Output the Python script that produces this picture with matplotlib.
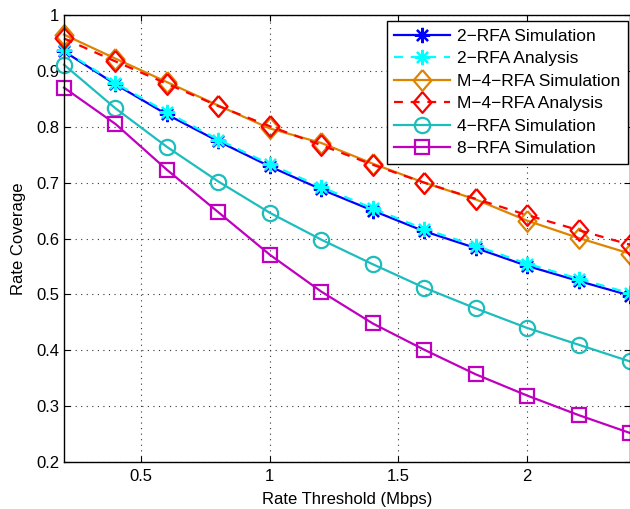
import matplotlib
matplotlib.use("Agg")
import matplotlib.pyplot as plt

plt.rcParams['font.family'] = ['Liberation Sans', 'DejaVu Sans']

# Rate threshold (Mbps)
threshold = [0.2, 0.4, 0.6, 0.8, 1.0, 1.2, 1.4, 1.6, 1.8, 2.0, 2.2, 2.4]

# Rate coverage per scheme
rfa2_sim = [0.935, 0.876, 0.822, 0.774, 0.729, 0.688, 0.650, 0.613, 0.583, 0.551, 0.524, 0.498]
rfa2_ana = [0.937, 0.878, 0.826, 0.777, 0.733, 0.692, 0.654, 0.617, 0.587, 0.555, 0.528, 0.502]
m4_sim = [0.965, 0.922, 0.880, 0.838, 0.797, 0.771, 0.734, 0.700, 0.670, 0.632, 0.601, 0.573]
m4_ana = [0.958, 0.917, 0.877, 0.837, 0.801, 0.767, 0.732, 0.700, 0.671, 0.642, 0.615, 0.589]
rfa4_sim = [0.911, 0.833, 0.764, 0.702, 0.646, 0.598, 0.554, 0.512, 0.475, 0.440, 0.410, 0.380]
rfa8_sim = [0.870, 0.805, 0.723, 0.647, 0.571, 0.505, 0.448, 0.401, 0.357, 0.319, 0.284, 0.252]

# MATLAB-style markers: 8-spoke asterisk and a slightly tall diamond
asterisk = (8, 2, 0)
diamond = [(0, 1), (0.86, 0), (0, -1), (-0.86, 0), (0, 1)]

dash = (0, (4, 3.5))
series = [
    ("2\u2212RFA Simulation", rfa2_sim, "#0000FF", "-", asterisk, 11),
    ("2\u2212RFA Analysis", rfa2_ana, "#00FFFF", dash, asterisk, 11),
    ("M\u22124\u2212RFA Simulation", m4_sim, "#DD8500", "-", diamond, 15),
    ("M\u22124\u2212RFA Analysis", m4_ana, "#FF0000", dash, diamond, 15),
    ("4\u2212RFA Simulation", rfa4_sim, "#1DBDBD", "-", "o", 11),
    ("8\u2212RFA Simulation", rfa8_sim, "#BF00BF", "-", "s", 9.5),
]

fig = plt.figure(figsize=(6.30, 5.09), dpi=100)
ax = fig.add_axes([0.1016, 0.0923, 0.8984, 0.8782])

for label, vals, color, ls, mk, ms in series:
    ax.plot(threshold, vals, color=color, linestyle=ls, linewidth=1.6,
            marker=mk, markersize=ms, markerfacecolor="none",
            markeredgecolor=color, markeredgewidth=1.6, label=label, clip_on=False)

ax.set_xlim(0.2, 2.4)
ax.set_ylim(0.2, 1.0)
ax.set_xticks([0.5, 1.0, 1.5, 2.0])
ax.set_xticklabels(["0.5", "1", "1.5", "2"])
ax.set_yticks([0.2, 0.3, 0.4, 0.5, 0.6, 0.7, 0.8, 0.9, 1.0])
ax.set_yticklabels(["0.2", "0.3", "0.4", "0.5", "0.6", "0.7", "0.8", "0.9", "1"])
ax.tick_params(direction="in", top=True, right=True, length=4, labelsize=12)
ax.tick_params(axis="x", pad=5)
ax.tick_params(axis="y", pad=3.5)
ax.grid(True, color="#333333", linestyle=(0, (1, 4)), linewidth=0.8)
for sp in ax.spines.values():
    sp.set_linewidth(1.0)

ax.set_xlabel("Rate Threshold (Mbps)", fontsize=12, labelpad=6)
ax.set_ylabel("Rate Coverage", fontsize=12, labelpad=7)

leg = ax.legend(loc="upper right", bbox_to_anchor=(628 / 630, 1 - 21 / 509),
                bbox_transform=fig.transFigure, fontsize=12.5, handlelength=3.2,
                frameon=True, fancybox=False, edgecolor="black", framealpha=1,
                borderaxespad=0, labelspacing=0.42, handletextpad=0.4, borderpad=0.45)
leg.get_frame().set_linewidth(1.0)

fig.savefig("out.png", dpi=100)
